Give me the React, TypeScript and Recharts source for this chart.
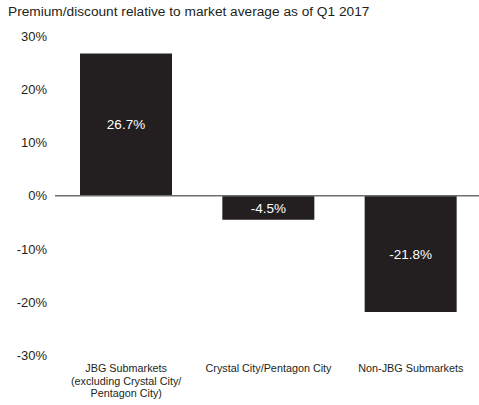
import React from "react";
import { BarChart, Bar, XAxis, YAxis, ReferenceLine, LabelList } from "recharts";

const categories = [
  "JBG Submarkets\n(excluding Crystal City/\nPentagon City)",
  "Crystal City/Pentagon City",
  "Non-JBG Submarkets",
];
const premiumValues = [26.7, -4.5, -21.8];
const yTicks = [-30, -20, -10, 0, 10, 20, 30];
const titleText = "Premium/discount relative to market average as of Q1 2017";

const data = categories.map((c, i) => ({ name: c, value: premiumValues[i] }));

const FONT = "'Liberation Sans', Arial, Helvetica, sans-serif";
const INK = "#231f20";

const CategoryTick = (props: any) => {
  const { x, y, payload } = props;
  const lines = String(payload.value).split("\n");
  return (
    <text x={x} y={y} textAnchor="middle" fontFamily={FONT} fontSize={10.8} fill={INK}>
      {lines.map((l: string, i: number) => (
        <tspan key={i} x={x} dy={i === 0 ? 8.5 : 12.5}>
          {l}
        </tspan>
      ))}
    </text>
  );
};

export default function App() {
  return (
    <div
      style={{
        position: "absolute",
        left: 0,
        top: 0,
        width: 479,
        height: 405,
        overflow: "hidden",
        background: "#fff",
      }}
    >
      <div
        style={{
          position: "absolute",
          left: 8,
          top: 4,
          fontFamily: FONT,
          fontSize: 13.7,
          lineHeight: "16px",
          color: INK,
          whiteSpace: "nowrap",
        }}
      >
        {titleText}
      </div>
      <div style={{ position: "absolute", left: 0, top: 0 }}>
        <BarChart
          width={482}
          height={405}
          data={data}
          margin={{ top: 36, right: 0, left: 0, bottom: 0 }}
        >
          <XAxis
            dataKey="name"
            axisLine={false}
            tickLine={false}
            height={49.4}
            interval={0}
            tick={<CategoryTick />}
          />
          <YAxis
            type="number"
            domain={[-30, 30]}
            ticks={yTicks}
            width={55}
            axisLine={false}
            tickLine={false}
            tickSize={0}
            tickMargin={8}
            tickFormatter={(v: number) => `${v}%`}
            tick={{ fontFamily: FONT, fontSize: 13, fill: INK }}
          />
          <ReferenceLine y={0} stroke="#6d6e70" strokeWidth={1.5} />
          <Bar dataKey="value" fill={INK} barSize={92} isAnimationActive={false}>
            <LabelList
              dataKey="value"
              position="center"
              formatter={(v: number) => `${v}%`}
              style={{ fontFamily: FONT, fontSize: 13.5, fill: "#ffffff" }}
            />
          </Bar>
        </BarChart>
      </div>
    </div>
  );
}
